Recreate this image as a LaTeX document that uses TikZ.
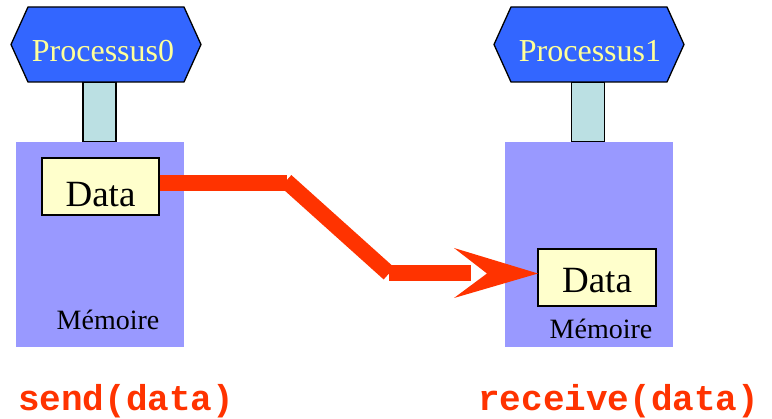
\documentclass[tikz,border=0pt]{standalone}
\usepackage{fontspec}
\setmainfont{Liberation Serif}
\newfontfamily\codefont{Liberation Mono}
\definecolor{procblue}{HTML}{3366FF}
\definecolor{memblue}{HTML}{9999FF}
\definecolor{stemcyan}{HTML}{BBE0E3}
\definecolor{datayellow}{HTML}{FFFFCC}
\definecolor{sendred}{HTML}{FF3300}
\definecolor{proctext}{HTML}{FFFF99}
\tikzset{
  hexa/.style={fill=procblue, draw=black, line width=1.3pt, line join=miter},
  proclabel/.style={text=proctext, font=\fontsize{32}{34}\selectfont, inner sep=0pt, anchor=base},
  stembox/.style={fill=stemcyan, draw=black, line width=1.3pt, inner sep=0pt, minimum width=33pt, minimum height=60pt},
  membox/.style={fill=memblue, inner sep=0pt, minimum width=168pt, minimum height=205pt},
  memlabel/.style={font=\fontsize{28}{30}\selectfont, inner sep=0pt, anchor=base},
  databox/.style={fill=datayellow, draw=black, line width=1.3pt, inner sep=0pt, minimum width=117pt, minimum height=57pt},
  datalabel/.style={font=\fontsize{37}{40}\selectfont, inner sep=0pt, anchor=base},
  arrowline/.style={draw=sendred, line width=16pt, line cap=butt},
  arrowhead/.style={fill=sendred},
  calllabel/.style={text=sendred, font=\codefont\bfseries\fontsize{36}{38}\selectfont, inner sep=0pt, anchor=base west}
}
\begin{document}
\begin{tikzpicture}[x=1pt,y=-1pt]
\useasboundingbox (0,0) rectangle (772,419);
% stems (drawn first)
\node[stembox] (s0) at (99.5,112) {};
\node[stembox] (s1) at (588,112) {};
% memories
\node[membox] (m0) at (100,244.5) {};
\node[membox] (m1) at (588.5,244.5) {};
% process hexagons
\path[hexa] (11,44.5) -- (28,7) -- (184,7) -- (201,44.5) -- (184,82) -- (28,82) -- cycle;
\path[hexa] (494,44.5) -- (511,7) -- (667,7) -- (684,44.5) -- (667,82) -- (511,82) -- cycle;
\node[proclabel] (p0) at (103,62) {Processus0};
\node[proclabel] (p1) at (590,62) {Processus1};
% data boxes
\node[databox] (d0) at (100.5,186.5) {};
\node[databox, minimum width=118pt] (d1) at (597,277.5) {};
\node[datalabel] (d0t) at (100.5,207) {Data};
\node[datalabel] (d1t) at (597,293) {Data};
% memory labels
\node[memlabel] (m0t) at (108,330) {Mémoire};
\node[memlabel] (m1t) at (601,339) {Mémoire};
% arrow
\coordinate (a1) at (287,183);
\coordinate (a2) at (389,273.5);
\coordinate (a3) at (471,273.5);
\coordinate (tip) at (538,273.5);
\draw[arrowline] (d0.east |- a1) -- (a1);
\draw[arrowline] (286,181) -- (a2);
\draw[arrowline] (a2) -- (a3);
\fill[arrowhead] (454,248) -- (tip) -- (454,298) -- (487,273.5) -- cycle;
% calls
\node[calllabel] (send) at (18,411) {send(data)};
\node[calllabel] (recv) at (478,411) {receive(data)};
\end{tikzpicture}
\end{document}
